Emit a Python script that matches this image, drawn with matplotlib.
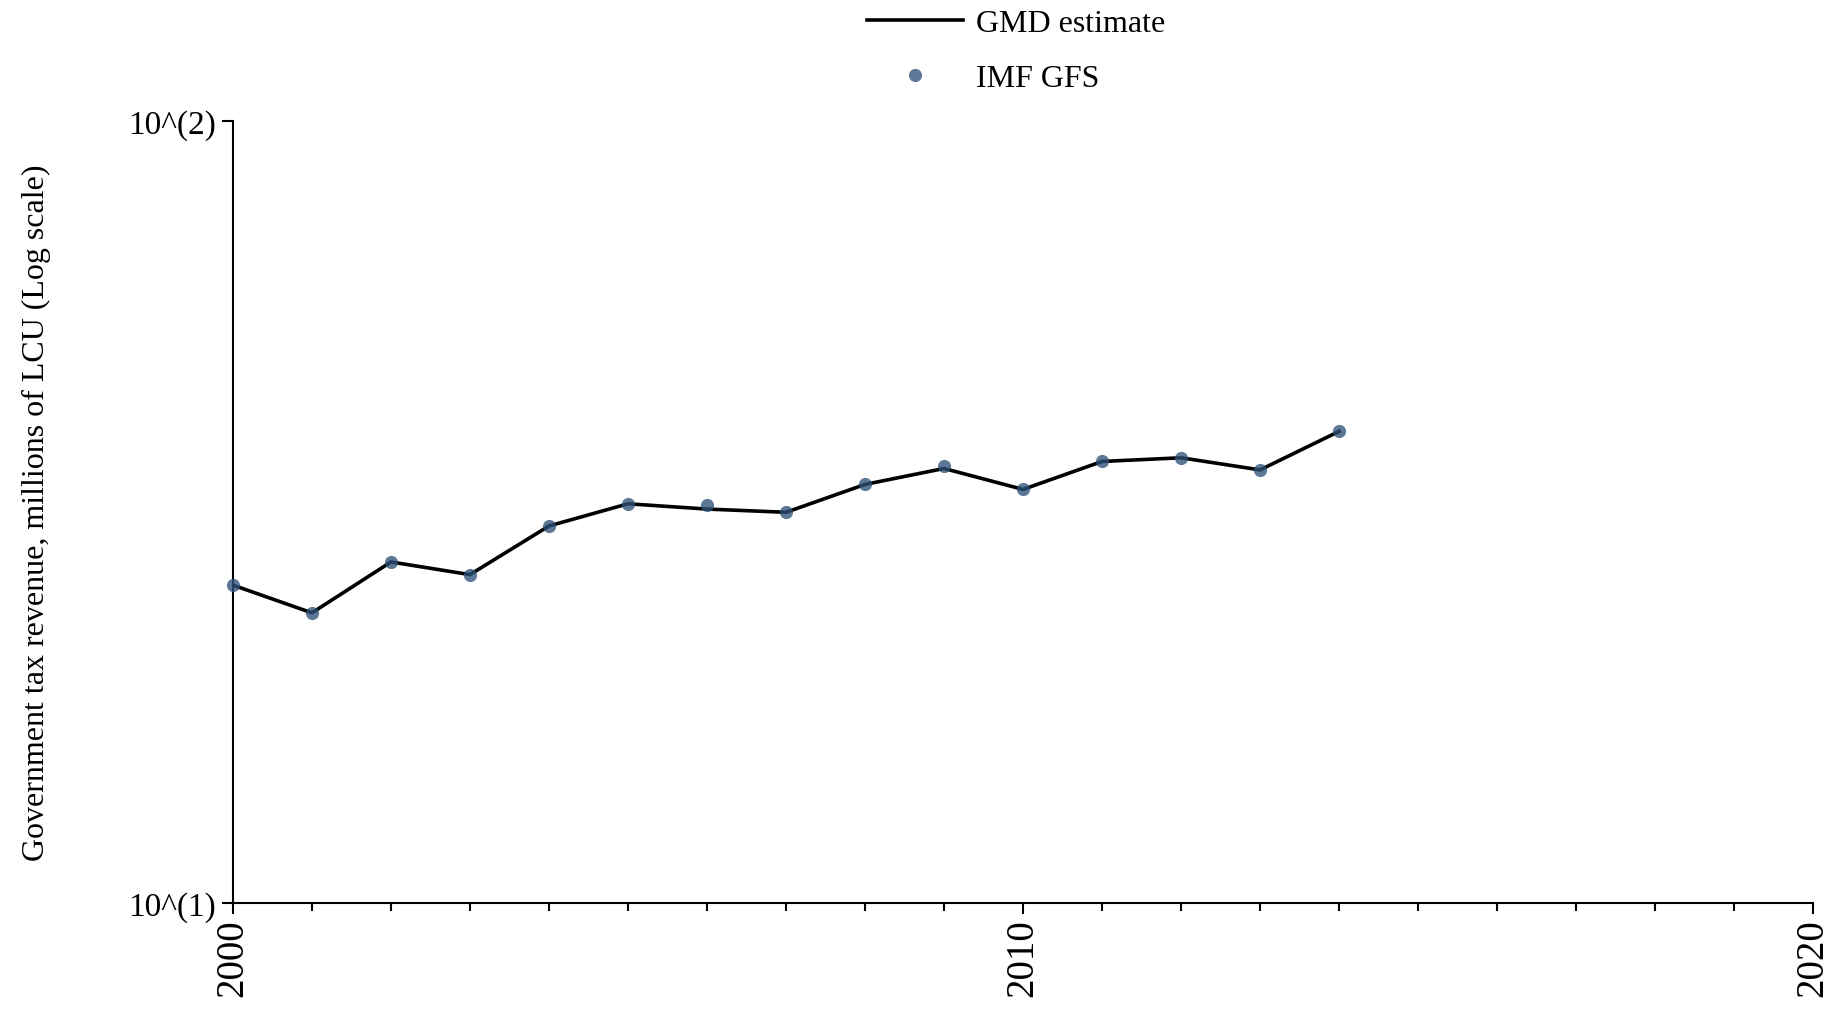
import matplotlib
matplotlib.use("Agg")
import matplotlib.pyplot as plt
from matplotlib.ticker import FixedLocator, NullLocator, NullFormatter

plt.rcParams['font.family'] = ['Liberation Serif', 'DejaVu Serif']

years = [2000, 2001, 2002, 2003, 2004, 2005, 2006, 2007, 2008, 2009, 2010, 2011, 2012, 2013, 2014]
gmd_estimate = [25.5, 23.5, 27.3, 26.3, 30.35, 32.4, 31.9, 31.6, 34.3, 35.95, 33.8, 36.7, 37.1, 35.8, 40.1]
imf_gfs = [25.5, 23.5, 27.3, 26.3, 30.35, 32.4, 32.3, 31.6, 34.3, 36.2, 33.8, 36.7, 37.1, 35.8, 40.1]

x_major = [2000, 2010, 2020]
x_minor = list(range(2000, 2021))
y_ticks = [10, 100]
y_ticklabels = ["10^(1)", "10^(2)"]
ylabel = "Government tax revenue, millions of LCU (Log scale)"

fig = plt.figure(figsize=(18.37, 10.12), dpi=100)
ax = fig.add_axes([0.1268, 0.1067, 0.8602, 0.7727])

ax.plot(years, gmd_estimate, color='black', lw=2.6, label='GMD estimate', zorder=2)
ax.plot(years, imf_gfs, linestyle='none', marker='o', markersize=9.5,
        color='#2e5279', alpha=0.78, markeredgewidth=0, label='IMF GFS', zorder=3, clip_on=False)

ax.set_yscale('log')
ax.set_ylim(10, 100)
ax.set_xlim(2000, 2020)
ax.yaxis.set_major_locator(FixedLocator(y_ticks))
ax.set_yticklabels(y_ticklabels)
ax.yaxis.set_minor_locator(NullLocator())
ax.yaxis.set_minor_formatter(NullFormatter())

ax.xaxis.set_major_locator(FixedLocator(x_major))
ax.xaxis.set_minor_locator(FixedLocator(x_minor))
ax.set_xticklabels([str(v) for v in x_major], rotation=90)

ax.tick_params(axis='x', which='major', labelsize=28, length=8, width=1.5, direction='out', pad=3)
ax.tick_params(axis='x', which='minor', length=6, width=1.5, direction='out')
ax.tick_params(axis='y', which='major', labelsize=24, length=8, width=1.5, direction='out', pad=4)

for s in ['top', 'right']:
    ax.spines[s].set_visible(False)
for s in ['left', 'bottom']:
    ax.spines[s].set_linewidth(1.5)

ax.set_ylabel(ylabel, fontsize=23)
ax.yaxis.set_label_coords(-0.115, 0.5)

leg = fig.legend(loc='upper center', bbox_to_anchor=(0.553, 1.0), frameon=False,
                 fontsize=23, handlelength=3.0, handletextpad=0.4, labelspacing=0.8,
                 borderaxespad=0, borderpad=0.3)

fig.savefig('out.png', dpi=100)
